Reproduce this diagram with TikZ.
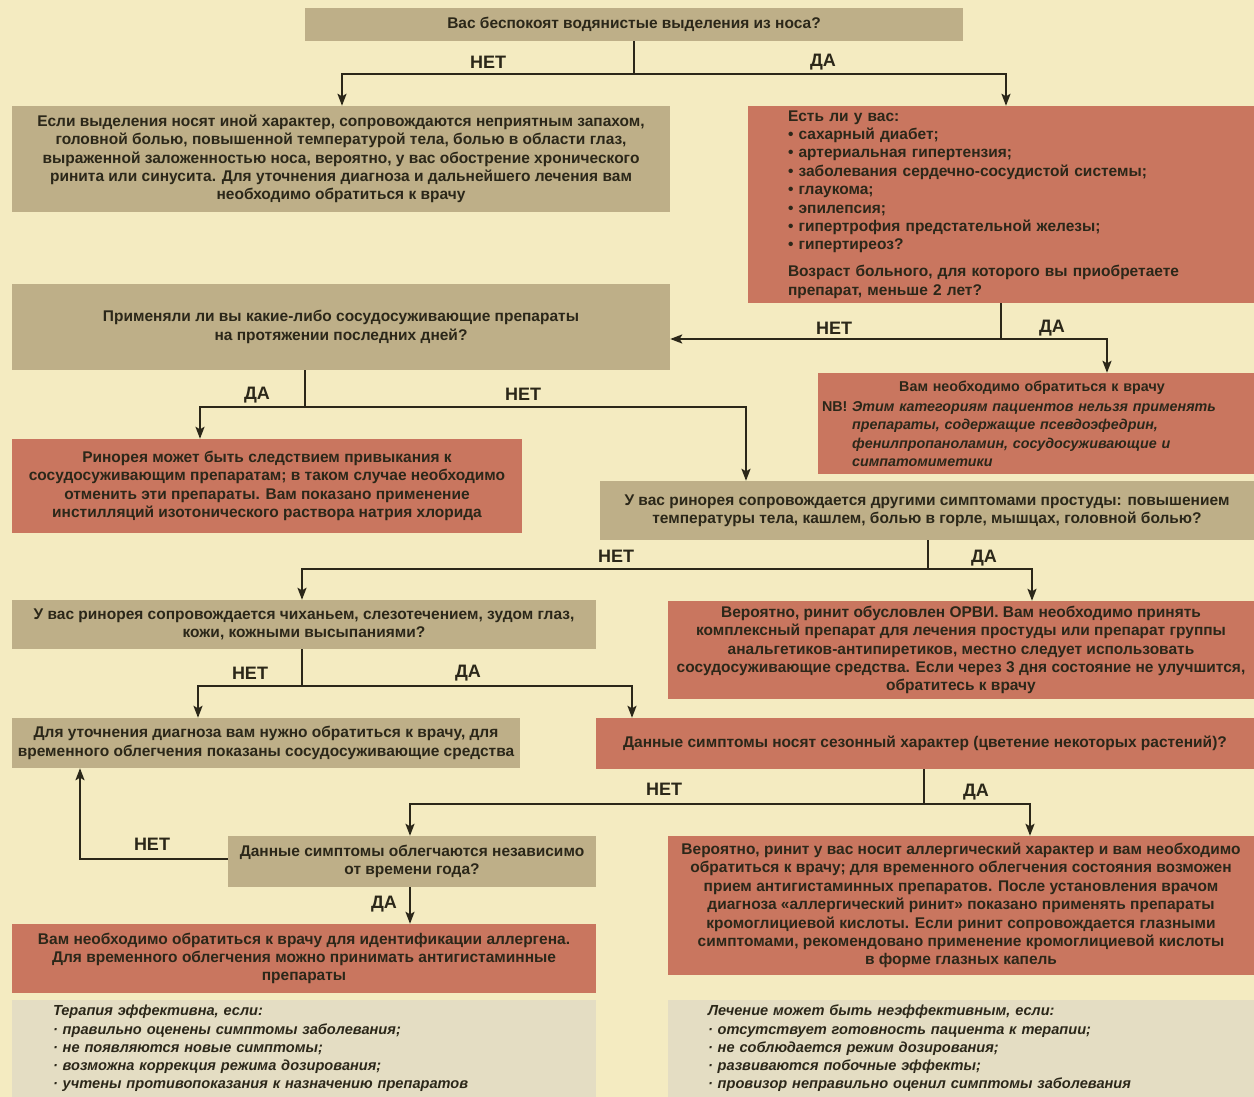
\documentclass[tikz,border=0pt]{standalone}
\usepackage{fontspec}
\setmainfont{Liberation Sans}
\usetikzlibrary{arrows.meta}
\definecolor{bg}{HTML}{F4EBC1}
\definecolor{olv}{HTML}{BEAF88}
\definecolor{redb}{HTML}{C9765F}
\definecolor{gry}{HTML}{E4DDC3}
\definecolor{ink}{HTML}{2B2719}
\newcommand{\boxfont}{\bfseries\fontsize{15.5}{18.4}\selectfont}
\newcommand{\itfont}{\bfseries\itshape\fontsize{14.6}{18.2}\selectfont}
\newcommand{\nbfont}{\bfseries\fontsize{14.3}{18.2}\selectfont}
\begin{document}
\begin{tikzpicture}[x=1pt,y=-1pt,
  box/.style={inner sep=0pt, text=ink, font=\boxfont, align=center},
  ol/.style={box, fill=olv},
  rd/.style={box, fill=redb},
  gy/.style={box, fill=gry, font=\itfont, align=left},
  ln/.style={draw=ink, line width=2pt},
  arr/.style={ln, -{Stealth[length=12pt,width=9pt,inset=2.5pt]}},
  lbl/.style={font=\bfseries\fontsize{18}{18}\selectfont, text=ink, inner sep=0pt}]
\useasboundingbox[fill=bg] (0,0) rectangle (1254,1097);

% boxes
\node[ol, minimum width=658pt, minimum height=33pt] (q1) at (634,24.5)
  {Вас беспокоят водянистые выделения из носа?};
\node[ol, minimum width=658pt, minimum height=106pt] (bnon) at (341,159)
  {Если выделения носят иной характер, сопровождаются неприятным запахом,\\
   головной болью, повышенной температурой тела, болью в области глаз,\\
   выраженной заложенностью носа, вероятно, у вас обострение хронического\\
   ринита или синусита. Для уточнения диагноза и дальнейшего лечения вам\\
   необходимо обратиться к врачу};
\node[rd, align=left, text width=426pt, minimum width=506pt, minimum height=197pt] (brisk) at (1001,204.5)
  {Есть ли у вас:\\
   • сахарный диабет;\\
   • артериальная гипертензия;\\
   • заболевания сердечно-сосудистой системы;\\
   • глаукома;\\
   • эпилепсия;\\
   • гипертрофия предстательной железы;\\
   • гипертиреоз?\\[8.5pt]
   Возраст больного, для которого вы приобретаете\\
   препарат, меньше 2 лет?};
\node[ol, minimum width=658pt, minimum height=86pt] (qvaso) at (341,327)
  {Применяли ли вы какие-либо сосудосуживающие препараты\\
   на протяжении последних дней?};
\node[rd, font=\nbfont, align=left, text width=428pt, minimum width=436pt, minimum height=101pt] (bnb) at (1036,423.5)
  {\makebox[420pt][c]{Вам необходимо обратиться к врачу}\\[2.5pt]
   NB! \textit{Этим категориям пациентов нельзя применять}\\
   \phantom{NB! }\textit{препараты, содержащие псевдоэфедрин,}\\
   \phantom{NB! }\textit{фенилпропаноламин, сосудосуживающие и}\\
   \phantom{NB! }\textit{симпатомиметики}};
\node[rd, minimum width=510pt, minimum height=94pt] (bhabit) at (267,486)
  {Ринорея может быть следствием привыкания к\\
   сосудосуживающим препаратам; в таком случае необходимо\\
   отменить эти препараты. Вам показано применение\\
   инстилляций изотонического раствора натрия хлорида};
\node[ol, minimum width=654pt, minimum height=59pt] (qcold) at (927,510.5)
  {У вас ринорея сопровождается другими симптомами простуды: повышением\\
   температуры тела, кашлем, болью в горле, мышцах, головной болью?};
\node[ol, minimum width=584pt, minimum height=49pt] (qsneeze) at (304,624.5)
  {У вас ринорея сопровождается чиханьем, слезотечением, зудом глаз,\\
   кожи, кожными высыпаниями?};
\node[rd, minimum width=586pt, minimum height=98pt] (borvi) at (961,650)
  {Вероятно, ринит обусловлен ОРВИ. Вам необходимо принять\\
   комплексный препарат для лечения простуды или препарат группы\\
   анальгетиков-антипиретиков, местно следует использовать\\
   сосудосуживающие средства. Если через 3 дня состояние не улучшится,\\
   обратитесь к врачу};
\node[ol, minimum width=508pt, minimum height=50pt] (bdoc1) at (266,743)
  {Для уточнения диагноза вам нужно обратиться к врачу, для\\
   временного облегчения показаны сосудосуживающие средства};
\node[rd, minimum width=658pt, minimum height=51pt] (qseason) at (925,743.5)
  {Данные симптомы носят сезонный характер (цветение некоторых растений)?};
\node[ol, minimum width=368pt, minimum height=51pt] (qyear) at (412,861.5)
  {Данные симптомы облегчаются независимо\\
   от времени года?};
\node[rd, minimum width=586pt, minimum height=139pt] (ballergic) at (961,905.5)
  {Вероятно, ринит у вас носит аллергический характер и вам необходимо\\
   обратиться к врачу; для временного облегчения состояния возможен\\
   прием антигистаминных препаратов. После установления врачом\\
   диагноза «аллергический ринит» показано применять препараты\\
   кромоглициевой кислоты. Если ринит сопровождается глазными\\
   симптомами, рекомендовано применение кромоглициевой кислоты\\
   в форме глазных капель};
\node[rd, minimum width=584pt, minimum height=69pt] (ballergen) at (304,958.5)
  {Вам необходимо обратиться к врачу для идентификации аллергена.\\
   Для временного облегчения можно принимать антигистаминные\\
   препараты};
\node[gy, text width=502pt, minimum width=584pt, minimum height=97pt] (neff) at (304,1048.5)
  {Терапия эффективна, если:\\
   · правильно оценены симптомы заболевания;\\
   · не появляются новые симптомы;\\
   · возможна коррекция режима дозирования;\\
   · учтены противопоказания к назначению препаратов};
\node[gy, text width=506pt, minimum width=586pt, minimum height=97pt] (nineff) at (961,1048.5)
  {Лечение может быть неэффективным, если:\\
   · отсутствует готовность пациента к терапии;\\
   · не соблюдается режим дозирования;\\
   · развиваются побочные эффекты;\\
   · провизор неправильно оценил симптомы заболевания};

% connectors 1
\coordinate (j1) at (634,74);
\coordinate (a1l) at (342,74);
\coordinate (a1r) at (1006,74);
\draw[ln] (q1.south) -- (j1);
\draw[arr] (j1) -- (a1l) -- (a1l |- bnon.north);
\draw[arr] (j1) -- (a1r) -- (a1r |- brisk.north);
% 2
\coordinate (j2) at (1001,339);
\coordinate (a2) at (1107,339);
\draw[ln] (brisk.south) -- (j2);
\draw[arr] (j2) -- (j2 -| qvaso.east);
\draw[arr] (j2) -- (a2) -- (a2 |- bnb.north);
% 3
\coordinate (j3) at (305,407);
\coordinate (a3l) at (200,407);
\coordinate (a3r) at (746,407);
\draw[ln] (j3 |- qvaso.south) -- (j3);
\draw[arr] (j3) -- (a3l) -- (a3l |- bhabit.north);
\draw[arr] (j3) -- (a3r) -- (a3r |- qcold.north);
% 4
\coordinate (j4) at (928,569);
\coordinate (a4l) at (302,569);
\coordinate (a4r) at (1032,569);
\draw[ln] (j4 |- qcold.south) -- (j4);
\draw[arr] (j4) -- (a4l) -- (a4l |- qsneeze.north);
\draw[arr] (j4) -- (a4r) -- (a4r |- borvi.north);
% 5
\coordinate (j5) at (302,686);
\coordinate (a5l) at (198,686);
\coordinate (a5r) at (632,686);
\draw[ln] (j5 |- qsneeze.south) -- (j5);
\draw[arr] (j5) -- (a5l) -- (a5l |- bdoc1.north);
\draw[arr] (j5) -- (a5r) -- (a5r |- qseason.north);
% 6
\coordinate (j6) at (924,804);
\coordinate (a6l) at (410,804);
\coordinate (a6r) at (1030,804);
\draw[ln] (j6 |- qseason.south) -- (j6);
\draw[arr] (j6) -- (a6l) -- (a6l |- qyear.north);
\draw[arr] (j6) -- (a6r) -- (a6r |- ballergic.north);
% 7
\coordinate (a7) at (80,859);
\draw[arr] (a7 -| qyear.west) -- (a7) -- (a7 |- bdoc1.south);
% 8
\coordinate (a8) at (410,900);
\draw[arr] (a8 |- qyear.south) -- (a8 |- ballergen.north);

% labels
\node[lbl] (l1n) at (488,62) {НЕТ};
\node[lbl] (l1d) at (823,62) {ДА};
\node[lbl] (l2n) at (834,328) {НЕТ};
\node[lbl] (l2d) at (1052,328) {ДА};
\node[lbl] (l3d) at (257,395) {ДА};
\node[lbl] (l3n) at (523,394) {НЕТ};
\node[lbl] (l4n) at (616,556) {НЕТ};
\node[lbl] (l4d) at (984,558) {ДА};
\node[lbl] (l5n) at (250,673) {НЕТ};
\node[lbl] (l5d) at (468,673) {ДА};
\node[lbl] (l6n) at (664,789) {НЕТ};
\node[lbl] (l6d) at (976,792) {ДА};
\node[lbl] (l7n) at (152,844) {НЕТ};
\node[lbl] (l8d) at (384,904) {ДА};
\end{tikzpicture}
\end{document}
